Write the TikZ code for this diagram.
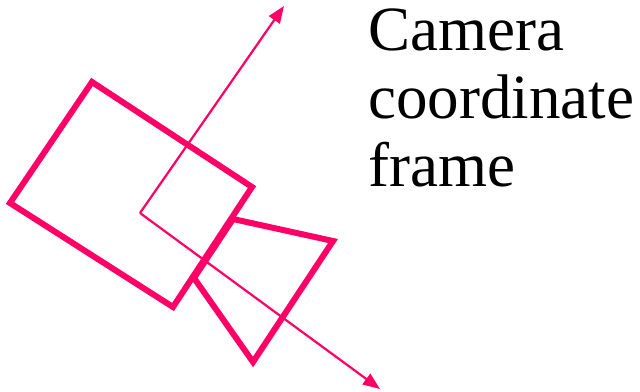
\documentclass[tikz,border=0pt]{standalone}
\usepackage{fontspec}
\setmainfont{Liberation Serif}
\usepackage{xcolor}
\usepackage{tikz}
\usetikzlibrary{arrows.meta, positioning}
\definecolor{campink}{RGB}{255,0,102}
\tikzset{
  camline/.style={draw=campink, line width=6pt, line join=miter},
  axisarrow/.style={-{Triangle[length=17pt, width=13pt]}, line width=2.2pt, color=campink},
  lbl/.style={font=\fontsize{63}{68}\selectfont, align=left, inner sep=0pt}
}

\begin{document}
\begin{tikzpicture}[x=1pt, y=-1pt]
  \useasboundingbox (0,0) rectangle (640,391);
  % camera body and lens
  \coordinate (bt) at (92,82);
  \coordinate (br) at (252,187);
  \coordinate (bb) at (173,307);
  \coordinate (bl) at (10,203);
  \coordinate (lt) at (233,219);
  \coordinate (lr) at (333,241);
  \coordinate (lb) at (253,362);
  \coordinate (ll) at (194,278);
  \draw[camline] (bt) -- (br) -- (bb) -- (bl) -- cycle;
  \draw[camline] (lt) -- (lr) -- (lb) -- (ll) -- cycle;

  % axes
  \coordinate (org) at (140,213);
  \coordinate (xtip) at (284,6);
  \coordinate (ztip) at (380,389);
  \draw[axisarrow] (org) -- (xtip);
  \draw[axisarrow] (org) -- (ztip);

  \node[lbl, anchor=base west] (title) at (368,186) {Camera\\coordinate\\frame};
\end{tikzpicture}
\end{document}
